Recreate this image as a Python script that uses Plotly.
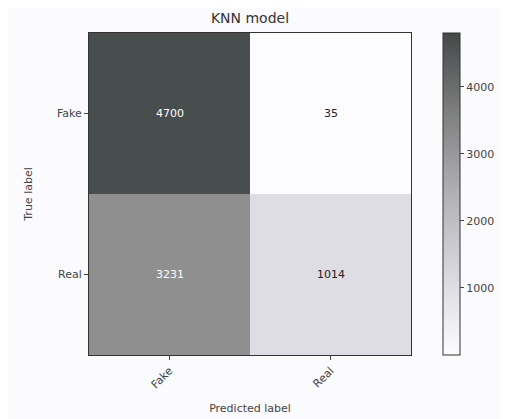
import plotly.graph_objects as go

pred_labels = ["Fake", "Real"]
true_labels = ["Fake", "Real"]
counts = [[4700, 35], [3231, 1014]]
cbar_ticks = [1000, 2000, 3000, 4000]

colorscale = [
    [0.0, "#fdfcfe"],
    [0.25, "#dad7df"],
    [0.5, "#b2b0b5"],
    [0.75, "#7f8080"],
    [1.0, "#434848"],
]

text_colors = [["white", "#222222"], ["white", "#222222"]]

fig = go.Figure()
fig.add_trace(go.Heatmap(
    z=counts, x=pred_labels, y=true_labels,
    colorscale=colorscale, zmin=0, zmax=4800,
    showscale=True,
    colorbar=dict(
        x=1.1, xanchor="left", xpad=0, ypad=0,
        len=1.0, lenmode="fraction", y=0.5, yanchor="middle",
        thickness=17, outlinewidth=1, outlinecolor="#333",
        tickvals=cbar_ticks, ticks="outside", ticklen=4,
        tickfont=dict(size=11, color="#444"),
    ),
))

for i, row in enumerate(counts):
    for j, v in enumerate(row):
        fig.add_annotation(x=pred_labels[j], y=true_labels[i], text=str(v),
                           showarrow=False,
                           font=dict(size=11, color=text_colors[i][j]))

fig.update_layout(
    width=508, height=419,
    margin=dict(l=81, r=105, t=25, b=72),
    paper_bgcolor="#fbfafc", plot_bgcolor="#fbfafc",
    font=dict(family="DejaVu Sans", color="#444"),
    title=dict(text="KNN model", x=(81 + 161) / 508, xanchor="center",
               y=1 - 10 / 419, yanchor="middle", font=dict(size=14, color="#333")),
)
fig.update_xaxes(
    title=dict(text="Predicted label", font=dict(size=11), standoff=14),
    tickangle=-45, ticks="outside", ticklen=4, tickfont=dict(size=11),
    showline=True, linecolor="#333", mirror=True, linewidth=1,
)
fig.update_yaxes(
    title=dict(text="True label", font=dict(size=11), standoff=22),
    autorange="reversed", ticks="outside", ticklen=4, tickfont=dict(size=11),
    showline=True, linecolor="#333", mirror=True, linewidth=1,
)

fig.write_html("out.html")
